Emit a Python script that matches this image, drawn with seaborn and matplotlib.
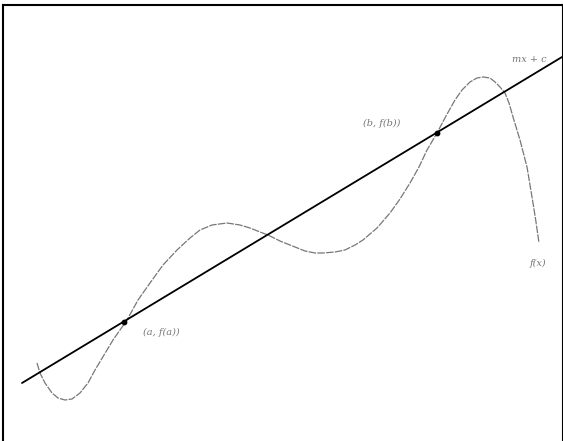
import pandas as pd
import seaborn as sns
import matplotlib.pyplot as plt

# Mean value theorem sketch: curve f(x) and secant line mx + c
sns.set_style("white")
plt.rcParams['font.family'] = ['DejaVu Serif']

# Curve f(x) (x, y in pixel-like units, y up)
curve_x = [37, 40, 45, 52, 58, 65, 72, 80, 88, 95, 104, 113, 120, 127, 138, 150,
           163, 177, 190, 200, 212, 227, 240, 250, 260, 268, 280, 290, 305, 315,
           323, 335, 345, 355, 363, 377, 390, 400, 410, 419, 427, 437, 446, 455,
           462, 470, 477, 483, 490, 495, 500, 505, 509, 513, 520, 527, 530, 533,
           536, 539]
curve_y = [78, 68, 58, 48, 43, 41, 42, 48, 58, 71, 86, 101, 111, 121, 141, 158,
           176, 191, 203, 211, 216, 218, 216, 213, 209, 206, 200, 196, 190, 188,
           188, 189, 191, 196, 201, 213, 228, 242, 258, 274, 291, 308, 325, 341,
           351, 359, 363, 364, 363, 359, 354, 348, 338, 324, 301, 274, 256, 238,
           219, 198]

# Secant line mx + c
line_x = [22, 562]
line_y = [58, 384]

# Marked points (a, f(a)) and (b, f(b))
pt_x = [124, 437]
pt_y = [119, 308]

labels = ["(a, f(a))", "(b, f(b))", "mx + c", "f(x)"]
label_x = [143, 363, 512, 530]
label_y = [109, 318, 381, 178]

curve = pd.DataFrame({"x": curve_x, "y": curve_y})
line = pd.DataFrame({"x": line_x, "y": line_y})

fig = plt.figure(figsize=(5.63, 4.41), dpi=100)
ax = fig.add_axes([3 / 563, 0, 560 / 563, 436 / 441])

sns.lineplot(data=curve, x="x", y="y", sort=False, ax=ax, color="#777777",
             lw=0.9, linestyle=(0, (6, 1)))
sns.lineplot(data=line, x="x", y="y", sort=False, ax=ax, color="black", lw=1.3)
ax.scatter(pt_x, pt_y, s=10, color="black", zorder=3)

for t, x, y in zip(labels, label_x, label_y):
    ax.text(x, y, t, fontsize=7, style="italic", color="#777777", va="center")

ax.set_xlim(3, 563)
ax.set_ylim(0, 436)
ax.set_xticks([])
ax.set_yticks([])
ax.set_xlabel("")
ax.set_ylabel("")
for side in ["left", "top", "right"]:
    ax.spines[side].set_color("black")
    ax.spines[side].set_linewidth(1.5)
ax.spines["bottom"].set_visible(False)

fig.savefig("out.png", dpi=100)
